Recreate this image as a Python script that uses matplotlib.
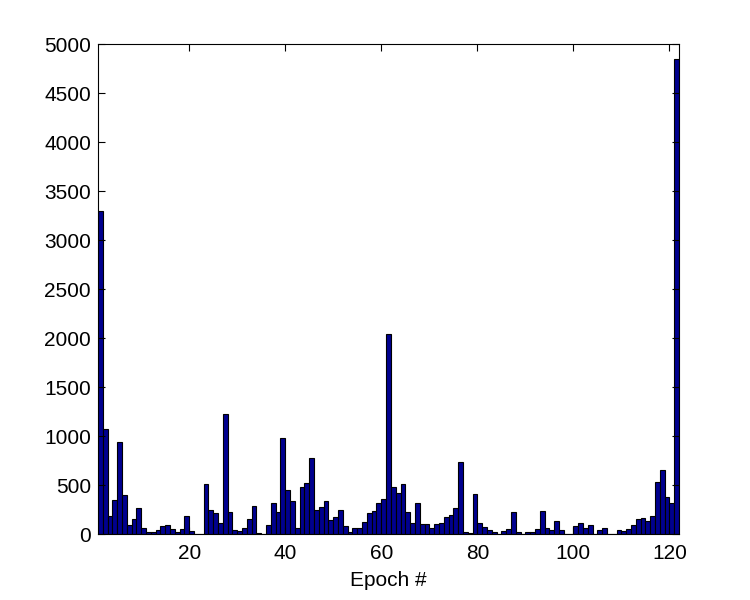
import numpy as np
import matplotlib
matplotlib.use('Agg')
import matplotlib.pyplot as plt

plt.rcParams['font.family'] = ['Liberation Sans', 'DejaVu Sans']

# bar counts per epoch (epochs 1..121)
counts = [
    3300, 1068, 184, 347, 938, 398, 92, 153, 265, 61,
    20, 20, 41, 82, 92, 48, 20, 51, 184, 28,
    5, 5, 507, 241, 211, 109, 1224, 221, 37, 27,
    58, 153, 282, 7, 0, 88, 313, 221, 976, 445,
    335, 58, 479, 517, 775, 241, 275, 337, 143, 177,
    245, 82, 20, 61, 61, 122, 214, 235, 316, 357,
    2040, 479, 418, 507, 224, 112, 316, 99, 99, 61,
    99, 112, 173, 194, 265, 734, 17, 7, 408, 112,
    71, 37, 17, 3, 27, 48, 221, 17, 3, 17,
    17, 48, 231, 61, 37, 133, 37, 3, 3, 78,
    112, 58, 88, 3, 37, 58, 3, 3, 37, 27,
    48, 88, 153, 163, 133, 184, 527, 653, 377, 316,
    4850,
]
epochs = np.arange(1, len(counts) + 1) + 0.5

fig = plt.figure(figsize=(7.5, 6), dpi=100)
ax = fig.add_axes([0.1307, 0.11, 0.7746, 0.8162])

ax.bar(epochs, counts, width=1.0, color='#00008F', edgecolor='black', linewidth=0.8)

ax.set_xlim(1, 122)
ax.set_ylim(0, 5000)
ax.set_xticks(range(20, 121, 20))
ax.set_yticks(range(0, 5001, 500))
ax.tick_params(direction='in', top=True, right=True, length=5, width=0.8,
               labelsize=15, pad=5)
ax.tick_params(axis='x', pad=7)
for s in ax.spines.values():
    s.set_linewidth(0.8)
ax.set_xlabel('Epoch #', fontsize=15, labelpad=6)

fig.savefig('out.png', dpi=100)
